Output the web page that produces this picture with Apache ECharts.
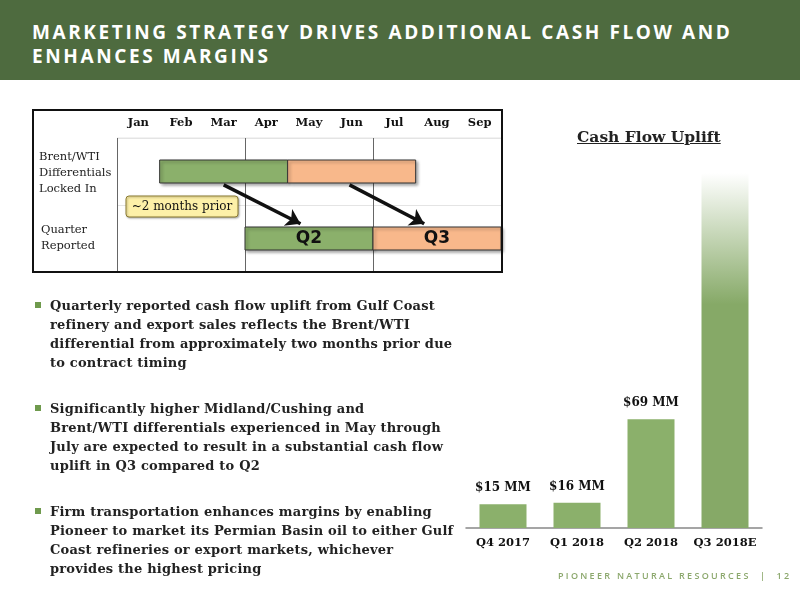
<!DOCTYPE html>
<html><head><meta charset="utf-8">
<script src="https://cdn.jsdelivr.net/npm/echarts@6/dist/echarts.min.js"></script>
<style>
body{margin:0;background:#fff;font-family:"DejaVu Serif",serif;}
#wrap{position:relative;width:800px;height:600px;overflow:hidden;background:#fff;}
#chart{position:absolute;left:0;top:0;width:800px;height:600px;}
.hdr{position:absolute;left:0;top:0;width:800px;height:80px;background:#4e6b3f;}
.hdr div{position:absolute;left:32px;top:20px;color:#fff;font-family:"Open Sans",sans-serif;font-weight:700;font-size:19px;letter-spacing:2.6px;line-height:24px;}
.txt{position:absolute;color:#222;font-weight:bold;font-size:13px;line-height:19px;}
.bul{position:absolute;left:34px;padding-left:16px;white-space:nowrap;font-size:13px;line-height:19px;font-weight:bold;color:#222;letter-spacing:0.2px;}
.bul:before{content:"";position:absolute;left:1px;top:6px;width:6px;height:6px;background:#6f9a4d;}
.foot{position:absolute;left:558px;top:569px;white-space:nowrap;font-family:"Open Sans",sans-serif;font-size:9px;letter-spacing:2.3px;color:#8ca86d;font-weight:600;}
.ttl{position:absolute;left:577px;top:127px;font-size:15.5px;font-weight:bold;text-decoration:underline;color:#222;}
</style></head><body>
<div id="wrap">
<div id="chart"></div>
<div class="hdr"><div>MARKETING STRATEGY DRIVES ADDITIONAL CASH FLOW AND<br>ENHANCES MARGINS</div></div>
<div class="txt" style="left:39px;top:148px;font-size:11.5px;line-height:16px;font-weight:normal">Brent/WTI<br>Differentials<br>Locked In</div>
<div class="txt" style="left:41px;top:221px;font-size:11.5px;line-height:16px;font-weight:normal">Quarter<br>Reported</div>
<div class="ttl">Cash Flow Uplift</div>
<div class="bul" style="top:296px">Quarterly reported cash flow uplift from Gulf Coast<br>refinery and export sales reflects the Brent/WTI<br>differential from approximately two months prior due<br>to contract timing</div>
<div class="bul" style="top:399px">Significantly higher Midland/Cushing and<br>Brent/WTI differentials experienced in May through<br>July are expected to result in a substantial cash flow<br>uplift in Q3 compared to Q2</div>
<div class="bul" style="top:502px">Firm transportation enhances margins by enabling<br>Pioneer to market its Permian Basin oil to either Gulf<br>Coast refineries or export markets, whichever<br>provides the highest pricing</div>
<div class="foot">PIONEER NATURAL RESOURCES &nbsp;|&nbsp; 12</div>
</div>
<script>
// timeline data (months from Jan 1)
var months = ['Jan','Feb','Mar','Apr','May','Jun','Jul','Aug','Sep'];
var lockedBars = [[1, 4], [4, 7]];
var quarterBars = [[3, 6], [6, 9]];
var quarterLabels = ['Q2', 'Q3'];
var barColors = ['#8bb06b', '#f8b88b'];
// cash flow uplift
var quarters = ['Q4 2017', 'Q1 2018', 'Q2 2018', 'Q3 2018E'];
var uplift = [15, 16, 69, 225];
var upliftLabels = ['$15 MM', '$16 MM', '$69 MM', ''];

var chart = echarts.init(document.getElementById('chart'));

var timelineData = [];
lockedBars.forEach(function (b, i) { timelineData.push([b[0], b[1], 25, i, '']); });
quarterBars.forEach(function (b, i) { timelineData.push([b[0], b[1], 75, i, quarterLabels[i]]); });

function renderBar(params, api) {
    var p0 = api.coord([api.value(0), api.value(2)]);
    var p1 = api.coord([api.value(1), api.value(2)]);
    var h = 23;
    var idx = api.value(3);
    return {
        type: 'group',
        children: [{
            type: 'rect',
            shape: {x: p0[0], y: p0[1] - h / 2, width: p1[0] - p0[0], height: h},
            style: {fill: barColors[idx], stroke: '#333', lineWidth: 1,
                shadowBlur: 3, shadowColor: 'rgba(0,0,0,0.35)', shadowOffsetX: 2, shadowOffsetY: 2}
        }, {
            type: 'text',
            style: {text: timelineData[params.dataIndex][4], x: (p0[0] + p1[0]) / 2, y: p0[1],
                align: 'center', verticalAlign: 'middle', font: 'bold 17px "DejaVu Sans"', fill: '#111'}
        }]
    };
}

var barData = uplift.map(function (v, i) {
    var d = {value: v, label: {show: upliftLabels[i] !== '', formatter: upliftLabels[i]}};
    if (i === 3) {
        d.itemStyle = {color: new echarts.graphic.LinearGradient(0, 0, 0, 1, [
            {offset: 0, color: '#ffffff'}, {offset: 0.37, color: '#86a967'}, {offset: 1, color: '#86a967'}])};
    }
    return d;
});

chart.setOption({
    animation: false,
    grid: [
        {left: 117, top: 138, width: 384, height: 134},
        {left: 466, right: 38, top: 173, bottom: 72}
    ],
    xAxis: [
        {gridIndex: 0, type: 'value', min: 0, max: 9, interval: 3, position: 'top',
            axisLine: {show: false}, axisTick: {show: false},
            axisLabel: {customValues: [0.5,1.5,2.5,3.5,4.5,5.5,6.5,7.5,8.5], margin: 9,
                formatter: function (v) { return months[Math.floor(v)]; },
                fontFamily: 'DejaVu Serif', fontWeight: 'bold', fontSize: 11.5, color: '#111'},
            splitLine: {show: true, lineStyle: {color: '#666', width: 1}}},
        {gridIndex: 1, type: 'category', data: quarters,
            axisLine: {lineStyle: {color: '#888', width: 1.5}}, axisTick: {show: false},
            axisLabel: {interval: 0, fontFamily: 'DejaVu Serif', fontWeight: 'bold', fontSize: 11.5, color: '#111', margin: 9}}
    ],
    yAxis: [
        {gridIndex: 0, type: 'value', min: 0, max: 100, interval: 50, inverse: true,
            axisLine: {show: false}, axisTick: {show: false}, axisLabel: {show: false},
            splitLine: {lineStyle: {color: '#e4e4e4'}}},
        {gridIndex: 1, type: 'value', min: 0, max: 225, show: false, splitLine: {show: false}}
    ],
    series: [
        {type: 'custom', xAxisIndex: 0, yAxisIndex: 0, renderItem: renderBar, data: timelineData,
            markLine: {silent: true, symbol: ['none', 'arrow'], symbolSize: 14, label: {show: false},
                lineStyle: {color: '#111', width: 3.5, type: 'solid'},
                data: [
                    [{coord: [2.5, 35]}, {coord: [4.3, 64]}],
                    [{coord: [5.45, 35]}, {coord: [7.2, 64]}]
                ]}},
        {type: 'bar', xAxisIndex: 1, yAxisIndex: 1, data: barData, barWidth: 47,
            itemStyle: {color: '#8bb06b'},
            label: {position: 'top', distance: 10, fontFamily: 'DejaVu Serif', fontWeight: 'bold', fontSize: 12, color: '#111'}}
    ],
    graphic: [
        {type: 'rect', shape: {x: 33, y: 110, width: 469, height: 162},
            style: {fill: 'none', stroke: '#111', lineWidth: 2}, z: 10},
        {type: 'line', shape: {x1: 117, y1: 138, x2: 501, y2: 138}, style: {stroke: '#e4e4e4'}},
        {type: 'rect', shape: {x: 126, y: 196, width: 112, height: 21, r: 3}, z: 20,
            style: {fill: '#fdf0a8', stroke: '#8a7a30', lineWidth: 1, shadowBlur: 2, shadowColor: 'rgba(0,0,0,0.3)', shadowOffsetX: 1, shadowOffsetY: 1}},
        {type: 'text', x: 182, y: 207, z: 21,
            style: {text: '~2 months prior', align: 'center', verticalAlign: 'middle', font: '12px "DejaVu Serif"', fill: '#111'}}
    ]
});
</script>
</body></html>
